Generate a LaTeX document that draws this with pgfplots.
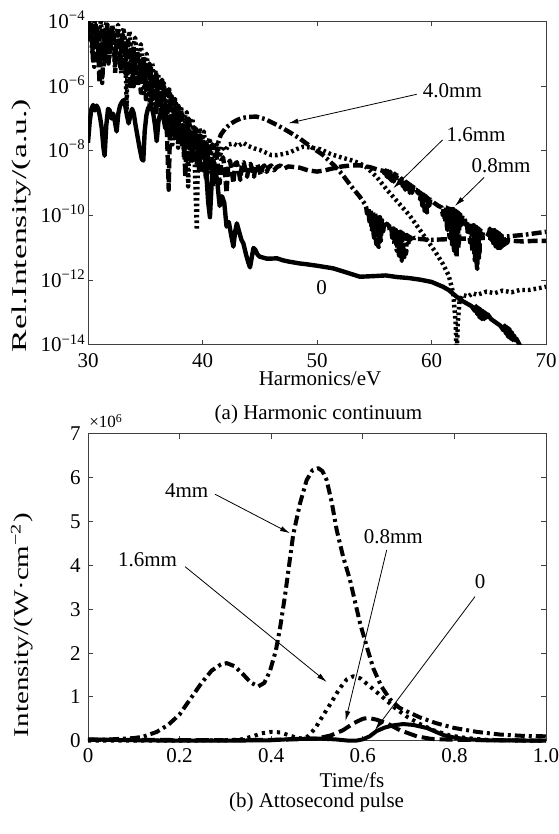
\documentclass[border=0pt]{standalone}
\usepackage{fontspec}
\setmainfont{Liberation Serif}
\usepackage{graphicx}
\usepackage{pgfplots}
\pgfplotsset{compat=1.18}
\usetikzlibrary{arrows.meta}
\begin{document}
\fontsize{10.5}{12}\selectfont
\begin{tikzpicture}[x=1pt,y=1pt]
\path[use as bounding box] (0,0) rectangle (279,417);
\pgfplotsset{
  myaxis/.style={
    scale only axis, width=229pt, anchor=south west,
    axis line style={black!75, line width=0.5pt},
    tick style={black!75, line width=0.5pt},
    major tick length=2.5pt,
    tick align=inside,
    ticklabel style={font=\fontsize{10.5}{12}\selectfont},
  },
  top/.style={black, line width=2.2pt, line join=round},
  bot/.style={black, line width=2pt, line join=round},
}
% ---------------- (a) ----------------
\begin{axis}[myaxis, at={(44pt,244.5pt)}, height=161.75pt,
  xmin=30, xmax=70, ymin=-14, ymax=-4,
  xtick={30,40,50,60,70}, xticklabels={30,40,50,60,70},
  ytick={-14,-12,-10,-8,-6,-4},
  yticklabels={10\textsuperscript{−14},10\textsuperscript{−12},10\textsuperscript{−10},10\textsuperscript{−8},10\textsuperscript{−6},10\textsuperscript{−4}},
  xticklabel style={inner sep=1pt, yshift=-3.3pt},
  yticklabel style={anchor=base east, yshift=-3.5pt, xshift=2.5pt},
]
% 4.0 mm (dash-dot)
\addplot[top, dash pattern=on 5pt off 1.6pt on 1.3pt off 1.6pt] coordinates {
(30.00,-4.4)(30.14,-4.1)(30.28,-4.3)(30.42,-4.9)(30.55,-5.4)(30.69,-4.5)(30.83,-4.2)(30.97,-4.5)(31.10,-5.5)(31.24,-5.9)
(31.38,-4.7)(31.52,-4.3)(31.65,-4.6)(31.79,-5.3)(31.93,-4.6)(32.07,-4.3)(32.20,-4.5)(32.34,-5.2)(32.48,-4.7)(32.62,-4.4)
(32.75,-4.7)(32.89,-5.6)(33.03,-4.8)(33.17,-4.5)(33.30,-4.8)(33.44,-5.5)(33.58,-4.9)(33.72,-4.7)(33.85,-5.0)(33.99,-6.0)
(34.13,-5.1)(34.27,-4.9)(34.40,-5.2)(34.54,-5.9)(34.68,-5.3)(34.82,-5.1)(34.95,-5.4)(35.09,-6.2)(35.23,-5.5)(35.37,-5.3)
(35.50,-5.6)(35.64,-6.4)(35.78,-5.7)(35.92,-5.5)(36.05,-5.9)(36.19,-6.7)(36.33,-6.0)(36.47,-5.8)(36.60,-6.2)(36.74,-7.1)
(36.88,-6.3)(37.02,-6.1)(37.15,-6.5)(37.29,-7.4)(37.43,-6.6)(37.57,-6.4)(37.70,-6.8)(37.84,-7.6)(37.98,-6.9)(38.12,-6.7)
(38.25,-7.1)(38.39,-8.0)(38.53,-7.2)(38.67,-7.0)(38.80,-7.4)(38.94,-8.3)(39.08,-7.5)(39.22,-7.3)(39.35,-7.7)(39.49,-8.5)
(39.63,-7.7)(39.77,-7.5)(39.90,-7.9)(40.04,-8.6)(40.18,-7.9)(40.32,-7.7)(40.45,-8.0)(40.59,-8.7)(40.73,-8.0)(40.87,-7.8)
(41.00,-7.9)(41.2,-8.2)(41.4,-7.7)(41.6,-7.5)(42.0,-7.3)(42.5,-7.15)(43.0,-7.05)(43.5,-6.98)(44.0,-6.95)(44.7,-6.94)
(45.5,-7.02)(46.5,-7.2)(47.5,-7.4)(48.5,-7.62)(49.5,-7.88)(50.5,-8.12)(51.5,-8.45)(52.2,-8.72)(53.0,-9.1)(53.7,-9.4)(54.2,-9.65)
(54.3,-9.75)(54.35,-9.9)(54.4,-9.95)(54.45,-9.8)(54.5,-9.8)(54.55,-10.1)(54.6,-10.2)(54.65,-9.85)(54.7,-9.85)(54.75,-10.35)(54.8,-10.45)(54.85,-9.9)(54.9,-9.9)(54.95,-10.6)(55.0,-10.7)(55.05,-9.95)(55.1,-9.95)(55.15,-10.8)(55.2,-10.9)
(55.25,-10.0)(55.3,-10.0)(55.35,-10.95)(55.4,-10.97)(55.45,-10.05)(55.5,-10.05)(55.55,-10.8)(55.6,-10.7)(55.65,-10.15)(55.7,-10.15)(55.75,-10.5)(55.8,-10.45)(55.85,-10.2)(55.9,-10.2)(56.0,-10.35)(56.1,-10.25)(56.2,-10.3)
(56.3,-10.3)(56.35,-10.45)(56.4,-10.5)(56.45,-10.35)(56.5,-10.35)(56.55,-10.65)(56.6,-10.7)(56.65,-10.4)(56.7,-10.4)(56.75,-10.85)(56.8,-10.9)(56.85,-10.45)(56.9,-10.45)(56.95,-11.05)(57.0,-11.1)(57.05,-10.5)(57.1,-10.5)(57.15,-11.2)(57.2,-11.25)
(57.25,-10.5)(57.3,-10.5)(57.35,-11.35)(57.4,-11.4)(57.45,-10.55)(57.5,-10.55)(57.55,-11.38)(57.6,-11.35)(57.65,-10.6)(57.7,-10.6)(57.75,-11.2)(57.8,-11.1)(57.85,-10.6)(57.9,-10.6)(58.0,-10.9)(58.1,-10.65)(58.3,-10.8)
(58.5,-10.68)(58.8,-10.72)(60,-10.75)(62,-10.72)(64,-10.7)(66,-10.66)(68,-10.6)(70,-10.5)
};
% 1.6 mm (dotted)
\addplot[top, dash pattern=on 1.3pt off 1.5pt] coordinates {
(30.000,-4.1)(30.125,-3.9)(30.250,-4.3)(30.375,-5.0)(30.500,-4.2)(30.625,-3.9)(30.750,-4.4)(30.875,-5.2)(31.000,-4.2)(31.125,-4.0)
(31.250,-4.5)(31.375,-5.4)(31.500,-4.3)(31.625,-4.0)(31.750,-4.4)(31.875,-5.1)(32.000,-4.3)(32.125,-4.1)(32.250,-4.6)(32.375,-5.6)
(32.500,-4.4)(32.625,-4.1)(32.750,-4.6)(32.875,-5.3)(33.000,-4.4)(33.125,-4.2)(33.250,-4.8)(33.375,-6.7)(33.500,-4.6)(33.625,-4.3)
(33.750,-4.9)(33.875,-5.8)(34.000,-4.7)(34.125,-4.5)(34.250,-5.0)(34.375,-6.0)(34.500,-4.9)(34.625,-4.7)(34.750,-5.3)(34.875,-6.3)
(35.000,-5.1)(35.125,-5.0)(35.250,-5.5)(35.375,-6.6)(35.500,-5.4)(35.625,-5.3)(35.750,-5.8)(35.875,-6.8)(36.000,-5.7)(36.125,-5.6)
(36.250,-6.1)(36.375,-7.0)(36.500,-6.0)(36.625,-5.9)(36.750,-6.5)(36.875,-7.4)(37.000,-6.2)(37.125,-6.1)(37.250,-6.6)(37.375,-7.8)
(37.500,-6.5)(37.625,-6.4)(37.750,-6.9)(37.875,-7.9)(38.000,-6.7)(38.125,-6.6)(38.250,-7.1)(38.375,-8.2)(38.500,-6.9)(38.625,-6.8)
(38.750,-9.1)(38.875,-7.2)(39.000,-7.0)(39.125,-7.0)(39.250,-7.6)(39.375,-9.0)(39.500,-10.45)(39.625,-7.5)(39.750,-7.3)(39.875,-7.9)
(40.000,-7.6)(40.125,-7.4)(40.250,-7.9)(40.375,-8.9)(40.500,-7.8)(40.625,-7.6)(40.750,-8.0)(40.875,-8.6)(41.000,-7.9)(41.25,-7.8)
(41.5,-8.2)(41.75,-7.85)(42.0,-8.0)(42.3,-7.8)(42.7,-7.77)(43.1,-7.85)(43.57,-7.75)(44.0,-7.85)(44.5,-7.92)(45.0,-7.97)
(45.5,-8.05)(46.0,-8.13)(46.5,-8.13)(47.0,-8.1)(47.6,-8.05)(48.2,-7.95)(48.8,-7.87)(49.5,-7.9)(50.3,-7.95)(51.2,-8.1)
(52.1,-8.2)(52.9,-8.28)(53.7,-8.38)(54.3,-8.5)(55.2,-8.8)(56.1,-9.2)(57.1,-9.6)(58.1,-10.0)(58.9,-10.4)(59.6,-10.75)
(60.3,-11.1)(61.0,-11.5)(61.5,-11.85)(61.9,-12.4)(62.1,-13.3)(62.2,-14.3)(62.3,-13.3)(62.45,-12.65)(62.7,-12.45)(63.2,-12.5)
(63.6,-12.4)(64.0,-12.45)(64.8,-12.35)(65.5,-12.4)(66.2,-12.32)(67.0,-12.37)(67.7,-12.3)(68.5,-12.3)(69.3,-12.25)(70.0,-12.2)
};
% 0.8 mm (dashed)
\addplot[top, dash pattern=on 5pt off 2pt] coordinates {
(30.000,-4.6)(30.110,-4.0)(30.225,-3.9)(30.340,-4.4)(30.450,-5.3)(30.560,-4.5)(30.675,-4.1)(30.790,-4.3)(30.900,-5.0)(31.010,-5.9)
(31.125,-4.6)(31.240,-4.2)(31.350,-4.5)(31.460,-5.2)(31.575,-4.5)(31.690,-4.1)(31.800,-4.3)(31.910,-5.0)(32.025,-4.6)(32.140,-4.2)
(32.250,-4.4)(32.360,-5.3)(32.475,-4.7)(32.590,-4.3)(32.700,-4.5)(32.810,-5.4)(32.925,-4.7)(33.040,-4.4)(33.150,-4.7)(33.260,-5.6)
(33.375,-4.9)(33.490,-4.6)(33.600,-4.9)(33.710,-6.1)(33.825,-5.0)(33.940,-4.8)(34.050,-5.1)(34.160,-5.9)(34.275,-5.2)(34.390,-5.0)
(34.500,-5.3)(34.610,-6.2)(34.725,-5.4)(34.840,-5.2)(34.950,-5.5)(35.060,-6.4)(35.175,-5.6)(35.290,-5.4)(35.400,-5.7)(35.510,-6.6)
(35.625,-5.8)(35.740,-5.6)(35.850,-5.9)(35.960,-6.8)(36.075,-6.0)(36.190,-5.8)(36.300,-6.1)(36.410,-7.0)(36.525,-6.2)(36.640,-6.0)
(36.750,-6.4)(36.900,-7.5)(37.050,-9.2)(37.200,-6.6)(37.300,-6.3)(37.450,-6.6)(37.600,-7.6)(37.750,-6.8)(37.900,-6.6)(38.050,-7.0)
(38.200,-7.8)(38.350,-7.3)(38.500,-8.8)(38.650,-7.2)(38.800,-7.0)(38.950,-7.4)(39.100,-8.3)(39.250,-7.5)(39.400,-7.3)(39.550,-7.7)
(39.700,-8.6)(39.850,-7.8)(40.000,-7.6)(40.150,-8.0)(40.300,-8.9)(40.450,-8.0)(40.600,-7.9)(40.750,-8.3)(40.900,-9.1)(41.050,-8.2)
(41.200,-8.1)(41.350,-8.5)(41.500,-9.0)(41.650,-8.3)(41.800,-8.2)(41.950,-8.6)(42.100,-9.3)(42.250,-8.4)(42.400,-8.3)(42.550,-8.6)
(42.700,-9.0)(42.850,-8.4)(43.000,-8.35)(43.150,-8.6)(43.300,-8.9)(43.450,-8.4)(43.600,-8.35)(43.750,-8.6)(43.900,-8.8)(44.050,-8.45)
(44.200,-8.4)(44.350,-8.6)(44.500,-8.8)(44.650,-8.45)(44.800,-8.42)(44.950,-8.6)(45.100,-8.75)(45.250,-8.5)(45.400,-8.45)(45.600,-8.65)
(45.800,-8.5)(46.000,-8.45)(46.250,-8.6)(46.500,-8.5)(46.800,-8.45)(47.100,-8.55)(47.500,-8.48)(48.000,-8.5)(48.500,-8.52)(49.200,-8.6)
(50.000,-8.64)(50.700,-8.6)(51.400,-8.54)(52.200,-8.48)(53.000,-8.45)(53.800,-8.45)(54.600,-8.5)(55.300,-8.58)(55.800,-8.62)
(55.9,-8.7)(56.0,-8.6)(56.1,-8.8)(56.2,-8.62)(56.3,-8.85)(56.4,-8.64)(56.5,-8.92)(56.6,-8.66)(56.7,-8.95)(56.8,-8.7)(56.9,-8.85)(57.0,-8.75)
(57.2,-8.85)(57.3,-9.0)(57.4,-8.85)(57.5,-9.1)(57.6,-8.9)(57.7,-9.2)(57.8,-8.95)(57.9,-9.25)(58.0,-9.0)(58.1,-9.3)(58.2,-9.05)(58.3,-9.3)(58.4,-9.1)(58.5,-9.2)
(58.7,-9.2)(58.8,-9.3)(58.9,-9.25)(59.0,-9.5)(59.1,-9.3)(59.2,-9.7)(59.3,-9.35)(59.4,-9.85)(59.5,-9.4)(59.6,-9.9)(59.7,-9.45)(59.8,-9.7)(59.9,-9.5)
(60.2,-9.6)(60.6,-9.7)
(60.9,-9.75)(60.95,-9.9)(61.0,-10.0)(61.05,-9.75)(61.1,-9.75)(61.15,-10.1)(61.2,-10.2)(61.25,-9.75)(61.3,-9.75)(61.35,-10.35)(61.4,-10.45)(61.45,-9.78)(61.5,-9.78)(61.55,-10.6)(61.6,-10.7)(61.65,-9.8)(61.7,-9.8)(61.75,-10.8)(61.8,-10.9)(61.85,-9.8)(61.9,-9.8)
(61.95,-11.0)(62.0,-11.1)(62.05,-9.85)(62.1,-9.85)(62.15,-11.2)(62.2,-11.3)(62.25,-9.9)(62.3,-9.9)(62.35,-11.0)(62.4,-10.8)(62.45,-9.95)(62.5,-9.95)(62.6,-10.3)(62.7,-10.0)(62.9,-10.1)
(63.0,-10.3)(63.05,-10.15)(63.1,-10.15)(63.15,-10.5)(63.2,-10.6)(63.25,-10.2)(63.3,-10.2)(63.35,-10.75)(63.4,-10.85)(63.45,-10.25)(63.5,-10.25)(63.55,-11.0)(63.6,-11.1)(63.65,-10.3)(63.7,-10.3)(63.75,-11.3)(63.8,-11.4)(63.85,-10.35)(63.9,-10.35)
(63.95,-11.55)(64.0,-11.65)(64.05,-10.4)(64.1,-10.4)(64.15,-11.3)(64.2,-11.1)(64.25,-10.45)(64.3,-10.45)(64.4,-10.7)(64.5,-10.5)(64.8,-10.55)
(65.0,-10.6)(65.1,-10.4)(65.2,-10.75)(65.3,-10.45)(65.4,-10.85)(65.5,-10.45)(65.6,-10.95)(65.7,-10.5)(65.8,-11.0)(65.9,-10.55)
(66.0,-11.0)(66.1,-10.6)(66.2,-10.95)(66.3,-10.65)(66.4,-10.9)(66.5,-10.7)(66.6,-10.85)(66.7,-10.75)(67.0,-10.78)(68,-10.8)(69,-10.78)(70,-10.78)
};
% 0 (solid)
\addplot[top] coordinates {
(30.0,-7.75)(30.15,-7.1)(30.3,-6.7)(30.45,-6.58)(30.6,-6.75)(30.75,-6.6)(30.9,-6.7)(31.05,-6.95)(31.2,-7.3)(31.35,-7.9)
(31.45,-8.15)(31.6,-7.2)(31.75,-6.7)(31.9,-6.75)(32.05,-7.0)(32.2,-6.85)(32.35,-7.1)(32.5,-7.4)(32.65,-6.84)(32.8,-6.6)
(32.95,-6.5)(33.1,-6.43)(33.25,-6.6)(33.4,-6.9)(33.55,-7.15)(33.7,-6.9)(33.85,-6.7)(34.0,-6.85)(34.15,-7.2)(34.3,-7.5)
(34.5,-7.9)(34.7,-8.25)(34.83,-8.3)(34.95,-7.4)(35.1,-6.9)(35.25,-6.68)(35.4,-6.62)(35.55,-6.65)(35.7,-6.85)(35.85,-7.2)
(36.0,-7.7)(36.15,-7.1)(36.3,-6.85)(36.45,-6.8)(36.6,-7.0)(36.75,-7.3)(36.9,-7.05)(37.05,-6.95)(37.2,-7.2)(37.35,-7.5)
(37.5,-7.15)(37.65,-7.05)(37.8,-7.3)(37.95,-7.7)(38.1,-7.35)(38.25,-7.2)(38.4,-7.45)(38.55,-7.9)(38.7,-7.5)(38.85,-7.4)
(39.0,-7.6)(39.15,-8.0)(39.3,-7.6)(39.45,-7.5)(39.6,-7.7)(39.75,-8.3)(39.9,-7.9)(40.05,-7.8)(40.2,-8.1)(40.35,-8.8)
(40.5,-9.6)(40.65,-10.05)(40.8,-9.0)(40.95,-8.3)(41.1,-8.5)(41.3,-9.0)(41.5,-9.7)(41.7,-9.4)(41.9,-9.6)(42.1,-10.34)
(42.3,-10.2)(42.5,-10.6)(42.7,-10.96)(42.85,-10.5)(43.0,-10.24)(43.2,-10.5)(43.4,-10.75)(43.57,-10.86)(43.8,-11.2)(44.0,-11.45)
(44.15,-11.6)(44.3,-11.3)(44.45,-11.0)(44.6,-11.05)(44.8,-11.2)(45.0,-11.27)(45.3,-11.3)(45.6,-11.33)(46.0,-11.33)(46.5,-11.32)
(47.0,-11.38)(47.5,-11.42)(48.0,-11.45)(48.5,-11.48)(49.0,-11.5)(50.0,-11.55)(51.4,-11.63)(52.5,-11.75)(53.75,-11.89)(55.0,-11.87)
(56.0,-11.85)(57.0,-11.9)(58.0,-11.93)(59.0,-11.98)(60.0,-12.05)(61.0,-12.2)(61.5,-12.3)(62.0,-12.45)(62.5,-12.6)(63.0,-12.7)(63.5,-12.8)
(63.8,-12.95)(63.9,-12.8)(64.0,-13.05)(64.1,-12.85)(64.2,-13.15)(64.3,-12.9)(64.4,-13.2)(64.5,-12.95)(64.6,-13.2)(64.7,-13.0)(64.8,-13.15)(64.9,-13.05)
(65.2,-13.2)(65.6,-13.3)(66.0,-13.4)
(66.3,-13.55)(66.4,-13.4)(66.5,-13.65)(66.6,-13.45)(66.7,-13.75)(66.8,-13.5)(66.9,-13.8)(67.0,-13.6)(67.1,-13.85)(67.2,-13.7)(67.3,-13.85)(67.4,-13.8)
(67.7,-14.0)(68.2,-14.3)
};
% annotations
\draw[black, line width=0.4pt, -{Latex[length=5pt,width=2.6pt]}] (axis cs:58.71,-6.25) -- (axis cs:47.49,-7.147);
\node[anchor=base] at (axis cs:61.83,-6.365) {4.0mm};
\draw[black, line width=0.4pt, -{Latex[length=5pt,width=2.6pt]}] (axis cs:60.96,-7.663) -- (axis cs:56.66,-9.156);
\node[anchor=base] at (axis cs:63.89,-7.716) {1.6mm};
\draw[black, line width=0.4pt, -{Latex[length=5pt,width=2.6pt]}] (axis cs:64.59,-8.822) -- (axis cs:62.05,-9.703);
\node[anchor=base] at (axis cs:66.07,-8.674) {0.8mm};
\node[anchor=base] at (axis cs:50.41,-12.454) {0};
\end{axis}
% ---------------- (b) ----------------
\begin{axis}[myaxis, at={(44pt,46.65pt)}, height=153.35pt,
  xmin=0, xmax=1, ymin=0, ymax=7, clip=false,
  xtick={0,0.2,0.4,0.6,0.8,1}, xticklabels={0,0.2,0.4,0.6,0.8,1.0},
  ytick={0,1,2,3,4,5,6,7}, yticklabels={0,1,2,3,4,5,6,7},
]
% 4 mm dash-dot
\addplot[bot, dash pattern=on 5pt off 2pt on 1.5pt off 2pt] coordinates {
(0,0.02)(0.05,0.03)(0.1,0.06)(0.12,0.09)(0.15,0.2)(0.175,0.36)(0.2,0.6)(0.212,0.78)(0.23,1.05)(0.248,1.32)
(0.27,1.6)(0.29,1.74)(0.303,1.77)(0.32,1.7)(0.34,1.5)(0.355,1.33)(0.372,1.24)(0.385,1.32)(0.397,1.58)(0.41,2.05)
(0.419,2.55)(0.43,3.3)(0.448,4.7)(0.463,5.42)(0.4775,5.95)(0.49,6.17)(0.503,6.22)(0.512,6.15)(0.521,5.95)(0.532,5.45)
(0.543,4.81)(0.557,4.2)(0.572,3.67)(0.594,2.68)(0.61,2.1)(0.623,1.65)(0.64,1.25)(0.659,0.95)(0.68,0.75)(0.7,0.65)
(0.725,0.53)(0.76,0.4)(0.8,0.29)(0.85,0.2)(0.9,0.14)(0.95,0.11)(1.0,0.1)
};
% 1.6 mm dotted
\addplot[bot, dash pattern=on 1.6pt off 2.2pt] coordinates {
(0,0.0)(0.1,0.0)(0.2,0.0)(0.3,0.01)(0.335,0.03)(0.36,0.1)(0.379,0.17)(0.4,0.2)(0.42,0.19)(0.437,0.13)
(0.455,0.07)(0.467,0.05)(0.48,0.1)(0.496,0.28)(0.51,0.52)(0.528,0.82)(0.55,1.2)(0.565,1.4)(0.579,1.47)(0.595,1.42)
(0.62,1.2)(0.645,0.98)(0.67,0.75)(0.696,0.55)(0.725,0.38)(0.754,0.24)(0.79,0.12)(0.827,0.06)(0.87,0.02)(0.95,0.0)(1.0,0.0)
};
% 0.8 mm dashed
\addplot[bot, dash pattern=on 6.5pt off 2.5pt] coordinates {
(0,0.02)(0.1,0.02)(0.3,0.01)(0.4,0.02)(0.45,0.03)(0.5,0.05)(0.53,0.12)(0.557,0.24)(0.58,0.4)(0.6,0.5)
(0.612,0.52)(0.63,0.48)(0.652,0.4)(0.681,0.24)(0.718,0.1)(0.75,0.04)(0.8,0.02)(0.9,0.01)(1.0,0.0)
};
% 0 solid
\addplot[bot] coordinates {
(0,0.03)(0.05,0.02)(0.1,0.01)(0.2,0.0)(0.3,0.0)(0.4,0.01)(0.45,0.04)(0.5,0.05)(0.54,0.03)(0.57,0.0)
(0.585,0.0)(0.6,0.03)(0.615,0.1)(0.63,0.22)(0.648,0.3)(0.666,0.35)(0.688,0.38)(0.71,0.36)(0.74,0.29)(0.76,0.2)
(0.776,0.13)(0.8,0.07)(0.83,0.03)(0.87,0.01)(1.0,0.0)
};
\draw[black, line width=0.4pt, -{Latex[length=5pt,width=2.6pt]}] (axis cs:0.2773,5.626) -- (axis cs:0.441,4.735);
\node[anchor=base] at (axis cs:0.2155,5.541) {4mm};
\draw[black, line width=0.4pt, -{Latex[length=5pt,width=2.6pt]}] (axis cs:0.2118,3.973) -- (axis cs:0.5212,1.34);
\node[anchor=base] at (axis cs:0.1299,3.973) {1.6mm};
\draw[black, line width=0.4pt, -{Latex[length=5pt,width=2.6pt]}] (axis cs:0.6522,4.354) -- (axis cs:0.5622,0.45);
\node[anchor=base] at (axis cs:0.6666,4.507) {0.8mm};
\draw[black, line width=0.4pt, -{Latex[length=5pt,width=2.6pt]}] (axis cs:0.845,3.288) -- (axis cs:0.6266,0.244);
\node[anchor=base] at (axis cs:0.8559,3.479) {0};
\end{axis}
% labels and captions
\node[rotate=90] at (10.5pt,304.15pt) {\resizebox{126.5pt}{\height}{Rel.Intensity/(a.u.)}};
\node[rotate=90] at (11pt,104.5pt) {\resizebox{112pt}{\height}{Intensity/(W·cm\textsuperscript{−2})}};
\node[anchor=base, inner sep=0pt] at (160pt,224pt) {Harmonics/eV};
\node[anchor=base, inner sep=0pt] at (159.25pt,207.3pt) {(a) Harmonic continuum};
\node[anchor=base west, inner sep=0pt, font=\fontsize{8.5}{9}\selectfont] at (44.5pt,203pt) {×10\textsuperscript{6}};
\node[anchor=base, inner sep=0pt] at (176pt,23pt) {Time/fs};
\node[anchor=base, inner sep=0pt] at (158.25pt,13.2pt) {(b) Attosecond pulse};
\end{tikzpicture}
\end{document}
